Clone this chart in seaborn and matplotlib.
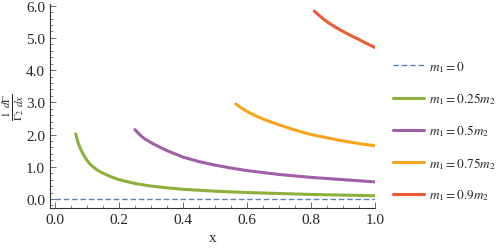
import matplotlib
matplotlib.use("Agg")
import matplotlib.pyplot as plt
import seaborn as sns
import pandas as pd
import numpy as np
from matplotlib.ticker import MultipleLocator, FormatStrFormatter

sns.set_style("ticks")
plt.rcParams['font.family'] = ['Liberation Serif', 'DejaVu Serif']
plt.rcParams['mathtext.fontset'] = 'stix'

labels = [r"$m_1=0$", r"$m_1=0.25m_2$", r"$m_1=0.5m_2$", r"$m_1=0.75m_2$", r"$m_1=0.9m_2$"]
colors = ["#5E81B5", "#8DB03A", "#A05EA8", "#F7A41D", "#EA5A34"]

x0 = [0.0, 1.0]
y0 = [0.0, 0.0]
x1 = [0.065, 0.068, 0.072, 0.076, 0.08, 0.085, 0.09, 0.095, 0.1, 0.11, 0.12, 0.135, 0.15, 0.175, 0.2, 0.25, 0.3, 0.35, 0.4, 0.5, 0.6, 0.7, 0.8, 0.9, 1.0]
y1 = [2.02, 1.9, 1.76, 1.65, 1.55, 1.45, 1.36, 1.28, 1.2, 1.08, 0.99, 0.88, 0.8, 0.69, 0.6, 0.48, 0.4, 0.345, 0.3, 0.24, 0.2, 0.17, 0.14, 0.12, 0.1]
x2 = [0.25, 0.26, 0.27, 0.28, 0.3, 0.325, 0.35, 0.375, 0.4, 0.45, 0.5, 0.55, 0.6, 0.7, 0.8, 0.9, 1.0]
y2 = [2.15, 2.05, 1.95, 1.87, 1.75, 1.62, 1.5, 1.4, 1.3, 1.16, 1.05, 0.96, 0.88, 0.76, 0.67, 0.6, 0.53]
x3 = [0.565, 0.58, 0.6, 0.625, 0.65, 0.7, 0.75, 0.8, 0.85, 0.9, 0.95, 1.0]
y3 = [2.95, 2.84, 2.72, 2.59, 2.48, 2.3, 2.14, 2.0, 1.9, 1.8, 1.72, 1.65]
x4 = [0.81, 0.83, 0.85, 0.875, 0.9, 0.925, 0.95, 0.975, 1.0]
y4 = [5.83, 5.66, 5.5, 5.34, 5.2, 5.07, 4.95, 4.82, 4.7]

fig = plt.figure(figsize=(4.98, 2.53), dpi=100)
ax = fig.add_axes([0.1, 0.174, 0.653, 0.806])

series = [(x0, y0), (x1, y1), (x2, y2), (x3, y3), (x4, y4)]
for i, ((xs, ys), lab, c) in enumerate(zip(series, labels, colors)):
    df = pd.DataFrame({"x": xs, "y": ys})
    if i == 0:
        sns.lineplot(data=df, x="x", y="y", ax=ax, color=c, lw=1.0, linestyle=(0, (4, 2)), label=lab)
    else:
        sns.lineplot(data=df, x="x", y="y", ax=ax, color=c, lw=2.2, label=lab)

ax.set_xlim(-0.016, 1.0)
ax.set_ylim(-0.28, 6.05)
ax.xaxis.set_major_locator(MultipleLocator(0.2))
ax.xaxis.set_minor_locator(MultipleLocator(0.05))
ax.yaxis.set_major_locator(MultipleLocator(1.0))
ax.yaxis.set_minor_locator(MultipleLocator(0.2))
ax.xaxis.set_major_formatter(FormatStrFormatter('%.1f'))
ax.yaxis.set_major_formatter(FormatStrFormatter('%.1f'))
ax.tick_params(which='major', direction='in', length=4, width=0.6, labelsize=11, color='#555555')
ax.tick_params(which='minor', direction='in', length=2, width=0.5, color='#555555')
for s in ['top', 'right']:
    ax.spines[s].set_visible(False)
for s in ['left', 'bottom']:
    ax.spines[s].set_linewidth(0.8)
    ax.spines[s].set_color('#333333')

ax.set_xlabel("x", fontsize=11)
ax.set_ylabel(r"$\frac{1}{\Gamma_2}\frac{d\Gamma}{dx}$", fontsize=11.5)
ax.yaxis.set_label_coords(-0.072, 0.5)

leg = ax.legend(loc='center left', bbox_to_anchor=(1.0, 0.38), frameon=False, fontsize=9.5,
                handlelength=2.3, handletextpad=0.4, labelspacing=1.25, borderaxespad=1.0)

fig.savefig("out.png", dpi=100)
